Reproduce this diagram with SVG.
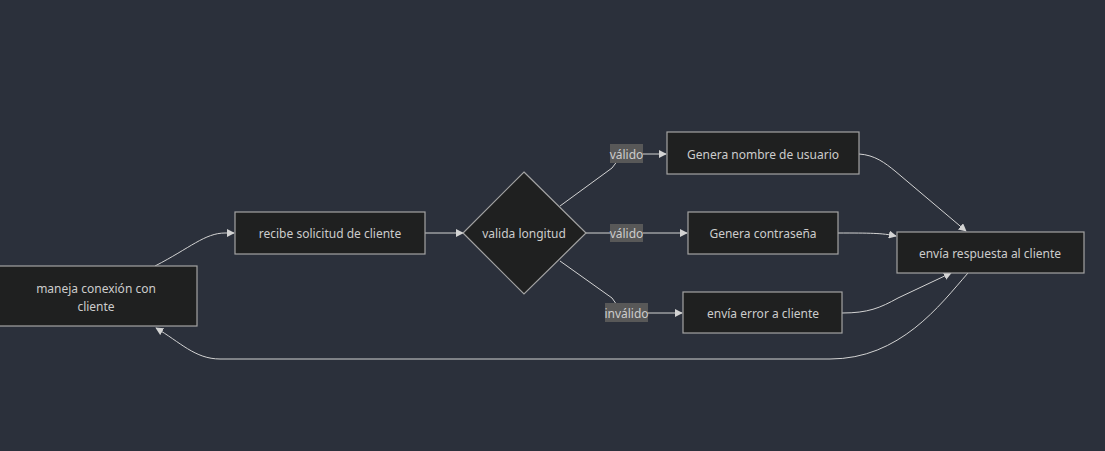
<svg xmlns="http://www.w3.org/2000/svg" width="1105" height="451" viewBox="0 0 1105 451">
<defs>
<marker id="arr" viewBox="0 0 10 10" refX="9" refY="5" markerWidth="8" markerHeight="8" markerUnits="userSpaceOnUse" orient="auto">
<path d="M0,0 L10,5 L0,10 z" fill="#d3d3d3"/>
</marker>
<style>
.node rect,.node polygon{fill:#1f2020;stroke:#a3a3a3;stroke-width:1.2}
.node text{fill:#cccccc;font-family:"Noto Sans","DejaVu Sans",sans-serif;font-size:12px;text-anchor:middle;dominant-baseline:central}
.edge{fill:none;stroke:#d3d3d3;stroke-width:1;marker-end:url(#arr)}
.lbl rect{fill:#585858}
.lbl text{fill:#cccccc;font-family:"Noto Sans","DejaVu Sans",sans-serif;font-size:12px;text-anchor:middle;dominant-baseline:central}
</style>
</defs>
<rect width="1105" height="451" fill="#2b303b"/>
<g id="connectors">
<path class="edge" d="M155,266 C190,248 205,233 225,233 L234,233"/>
<path class="edge" d="M425,233 L463,233"/>
<path class="edge" d="M560,206 L612,168 Q621,154 632,154 L666,154"/>
<path class="edge" d="M586,233 L687,233"/>
<path class="edge" d="M560,261 L612,298 Q621,313 632,313 L682,313"/>
<path class="edge" d="M859,154 C875,155 885,163 895,171 L966,231"/>
<path class="edge" d="M838,233 C870,233 882,233 896,236"/>
<path class="edge" d="M842,313 C868,313 880,308 898,298 L951,273"/>
<path class="edge" d="M968,273 C940,305 900,359 830,359 L220,359 C195,359 180,342 156,328"/>
</g>
<g id="labels">
<g class="lbl" id="lbl1"><rect x="610" y="144" width="33" height="19"/><text x="626.5" y="154">válido</text></g>
<g class="lbl" id="lbl2"><rect x="610" y="224" width="33" height="18"/><text x="626.5" y="233">válido</text></g>
<g class="lbl" id="lbl3"><rect x="605" y="303" width="43" height="19"/><text x="626.5" y="313">inválido</text></g>
</g>
<g class="node" id="nA"><rect x="-5" y="266" width="202" height="60"/><text x="96" y="288">maneja conexión con</text><text x="96" y="306">cliente</text></g>
<g class="node" id="nB"><rect x="235" y="212" width="190" height="42"/><text x="330" y="233">recibe solicitud de cliente</text></g>
<g class="node" id="nC"><polygon points="524,172 586,233 524,294 463,233"/><text x="524" y="233">valida longitud</text></g>
<g class="node" id="nD"><rect x="667" y="132" width="192" height="42"/><text x="763" y="154">Genera nombre de usuario</text></g>
<g class="node" id="nE"><rect x="688" y="212" width="150" height="42"/><text x="763" y="233">Genera contraseña</text></g>
<g class="node" id="nF"><rect x="683" y="292" width="159" height="41"/><text x="763" y="313">envía error a cliente</text></g>
<g class="node" id="nG"><rect x="897" y="232" width="187" height="41"/><text x="990" y="253">envía respuesta al cliente</text></g>
</svg>
